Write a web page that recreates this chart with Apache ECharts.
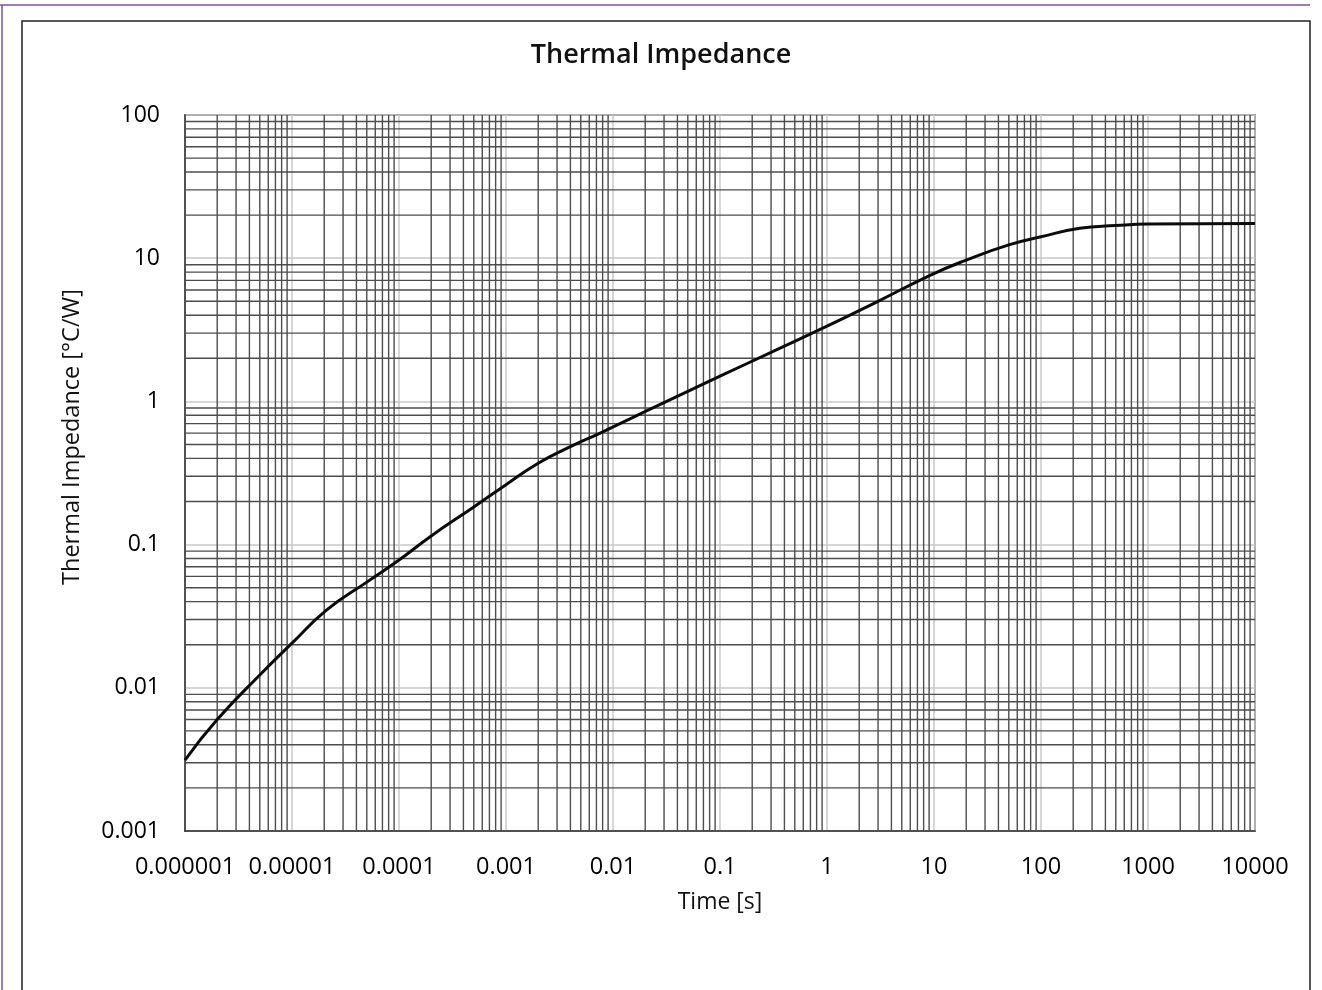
<!DOCTYPE html>
<html>
<head>
<meta charset="utf-8">
<script src="https://cdn.jsdelivr.net/npm/echarts@6/dist/echarts.min.js"></script>
<style>
  html, body { margin: 0; padding: 0; background: #fff; }
  #main { width: 1322px; height: 990px; }
</style>
</head>
<body>
<div id="main"></div>
<script>
// time [s] and thermal impedance [°C/W]
var times = [1e-6, 2e-6, 5e-6, 1e-5, 2.1e-5, 5e-5, 1e-4, 2e-4, 5e-4, 1e-3, 2e-3, 4e-3, 7.5e-3, 0.0144, 0.03, 0.1, 0.3, 1, 3, 9.2, 20, 50, 100, 230, 500, 1000, 10000];
var zth   = [0.00313, 0.006, 0.0123, 0.0205, 0.0349, 0.0547, 0.078, 0.115, 0.183, 0.262, 0.37, 0.483, 0.598, 0.756, 0.98, 1.5, 2.2, 3.35, 5.0, 7.6, 9.7, 12.4, 14.1, 16.2, 16.9, 17.3, 17.5];

var xTickLabels = ['0.000001', '0.00001', '0.0001', '0.001', '0.01', '0.1', '1', '10', '100', '1000', '10000'];
var yTickLabels = ['0.001', '0.01', '0.1', '1', '10', '100'];

var xMin = 1e-6, xMax = 1e4, yMin = 0.001, yMax = 100;

// minor grid at 2..9 of every decade, drawn as broken line segments
var xMinorSegs = [];
for (var k = -6; k < 4; k++) {
  for (var m = 2; m < 10; m++) {
    var v = m * Math.pow(10, k);
    xMinorSegs.push([v, yMin], [v, yMax], [v, '-']);
  }
}
var yMinorSegs = [];
for (var k = -3; k < 2; k++) {
  for (var m = 2; m < 10; m++) {
    var v = m * Math.pow(10, k);
    yMinorSegs.push([xMin, v], [xMax, v], ['-', v]);
  }
}

var points = times.map(function (t, i) { return [t, zth[i]]; });

var font = 'Open Sans';
var minorStyle = { color: '#4d4d4d', width: 1.4 };

option = {
  backgroundColor: '#fff',
  animation: false,
  title: {
    text: 'Thermal Impedance',
    left: 'center',
    top: 37,
    textStyle: { fontFamily: font, fontSize: 27, fontWeight: 600, color: '#111' }
  },
  graphic: [
    { type: 'line', shape: { x1: 0, y1: 5, x2: 1310, y2: 5 }, style: { stroke: '#7a52a6', lineWidth: 1.5 } },
    { type: 'line', shape: { x1: 2, y1: 5, x2: 2, y2: 990 }, style: { stroke: '#7a52a6', lineWidth: 1.5 } },
    { type: 'rect', shape: { x: 22, y: 21, width: 1288, height: 1000 }, style: { fill: 'none', stroke: '#222', lineWidth: 1.5 } }
  ],
  grid: {
    left: 185, right: 67, top: 115, bottom: 159,
    show: true, borderColor: '#333', borderWidth: 1.5
  },
  xAxis: {
    type: 'log',
    logBase: 10,
    min: xMin,
    max: xMax,
    interval: 1,
    name: 'Time [s]',
    nameLocation: 'middle',
    nameGap: 60,
    nameTextStyle: { fontFamily: font, fontSize: 23, color: '#111' },
    axisLine: { lineStyle: { color: '#333', width: 1.5 } },
    axisTick: { show: false },
    axisLabel: {
      margin: 24,
      fontFamily: font, fontSize: 23.5, color: '#000',
      formatter: function (v) { return xTickLabels[Math.round(Math.log10(v)) + 6]; }
    },
    splitLine: { show: true, lineStyle: { color: '#c8c8c8', width: 1.5 } }
  },
  yAxis: {
    type: 'log',
    logBase: 10,
    min: yMin,
    max: yMax,
    interval: 1,
    name: 'Thermal Impedance [°C/W]',
    nameLocation: 'middle',
    nameGap: 101,
    nameTextStyle: { fontFamily: font, fontSize: 23.5, color: '#111', padding: [0, 0, 0, 72] },
    axisLine: { lineStyle: { color: '#333', width: 1.5 } },
    axisTick: { show: false },
    axisLabel: {
      margin: 25,
      fontFamily: font, fontSize: 23, color: '#000',
      formatter: function (v) { return yTickLabels[Math.round(Math.log10(v)) + 3]; }
    },
    splitLine: { show: true, lineStyle: { color: '#c8c8c8', width: 1.5 } }
  },
  series: [{
    name: 'minor x',
    type: 'line',
    data: xMinorSegs,
    silent: true,
    showSymbol: false,
    connectNulls: false,
    z: 1,
    lineStyle: minorStyle
  }, {
    name: 'minor y',
    type: 'line',
    data: yMinorSegs,
    silent: true,
    showSymbol: false,
    connectNulls: false,
    z: 1,
    lineStyle: minorStyle
  }, {
    name: 'Zth',
    type: 'line',
    data: points,
    smooth: true,
    showSymbol: false,
    z: 5,
    lineStyle: { color: '#0b0b0b', width: 3 }
  }]
};

var myChart = echarts.init(document.getElementById('main'));
myChart.setOption(option);
</script>
</body>
</html>
